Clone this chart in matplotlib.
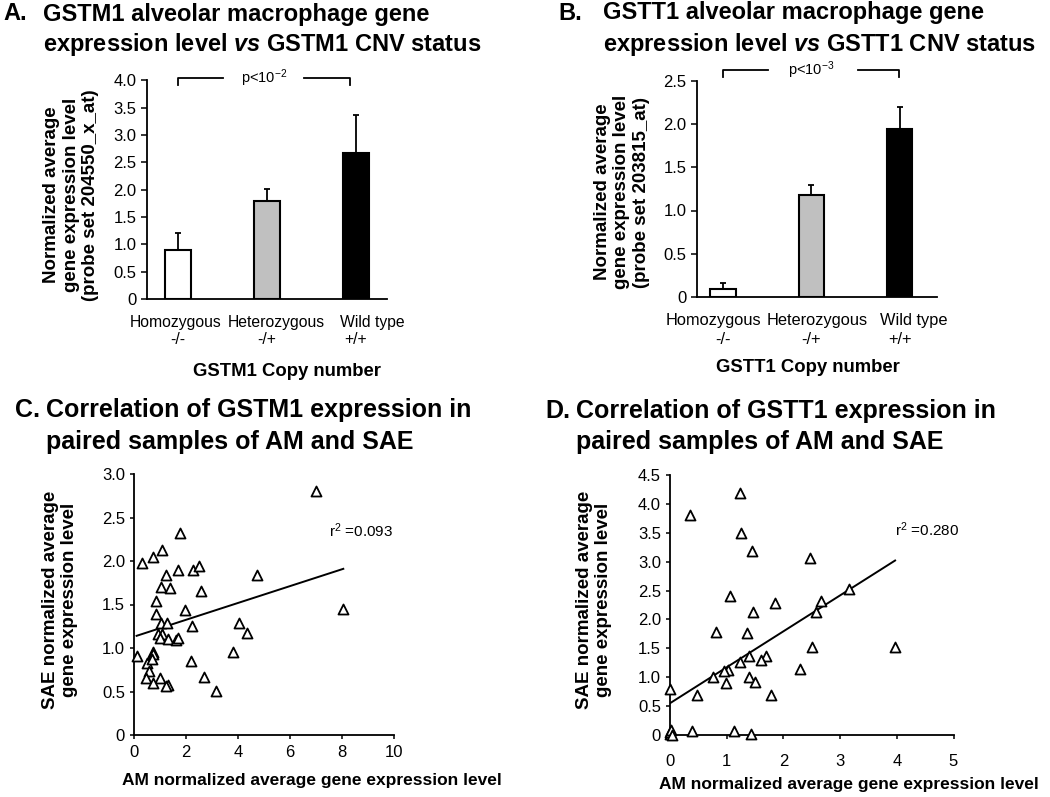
import numpy as np
import matplotlib
matplotlib.use("Agg")
import matplotlib.pyplot as plt

plt.rcParams['font.family'] = ['Liberation Sans', 'DejaVu Sans']
plt.rcParams['mathtext.fontset'] = 'custom'
plt.rcParams['mathtext.rm'] = 'Liberation Sans'
plt.rcParams['mathtext.it'] = 'Liberation Sans:italic:bold'
plt.rcParams['mathtext.bf'] = 'Liberation Sans:bold'

# ---------------- data ----------------
bar_names = ["Homozygous", "Heterozygous", "Wild type"]
bar_codes = ["-/-", "-/+", "+/+"]
bar_colors = ["white", "#c0c0c0", "black"]

gstm1_means = [0.90, 1.79, 2.66]
gstm1_err = [0.30, 0.23, 0.70]

gstt1_means = [0.09, 1.18, 1.94]
gstt1_err = [0.07, 0.12, 0.26]

# Panel C scatter (AM vs SAE, GSTM1)
c_am = [7.0, 8.05, 1.77, 1.09, 0.74, 0.31, 1.69, 2.28, 2.51, 1.22, 4.74, 1.03, 1.38,
        2.56, 0.85, 1.96, 0.83, 1.03, 1.27, 2.23, 4.05, 4.33, 0.94, 1.09, 1.00, 1.32,
        1.62, 1.70, 3.80, 0.13, 0.72, 0.74, 2.19, 0.51, 0.68, 0.56, 0.46, 1.00, 0.74,
        1.32, 1.22, 2.69, 3.14]
c_sae = [2.81, 1.45, 2.32, 2.13, 2.05, 1.98, 1.90, 1.90, 1.94, 1.84, 1.84, 1.70, 1.69,
         1.66, 1.54, 1.44, 1.39, 1.29, 1.29, 1.25, 1.29, 1.17, 1.16, 1.16, 1.11, 1.10,
         1.09, 1.12, 0.95, 0.91, 0.95, 0.93, 0.85, 0.83, 0.87, 0.73, 0.65, 0.66, 0.60,
         0.58, 0.56, 0.67, 0.51]
c_fit_x = [0.1, 8.05]
c_fit_y = [1.14, 1.91]
c_r2 = "0.093"

# Panel D scatter (AM vs SAE, GSTT1)
d_am = [1.23, 0.36, 1.26, 1.45, 2.47, 1.06, 1.85, 2.66, 3.15, 2.58, 1.47, 0.81, 1.36,
        2.50, 3.97, 1.40, 1.69, 1.60, 1.23, 2.30, 1.03, 0.95, 0.76, 1.39, 0.98, 1.50,
        0.00, 0.48, 1.78, 0.39, 1.12, 1.42, 0.00, 0.00, 0.02, 0.03]
d_sae = [4.19, 3.81, 3.49, 3.18, 3.06, 2.41, 2.28, 2.32, 2.53, 2.13, 2.13, 1.79, 1.77,
         1.53, 1.52, 1.37, 1.37, 1.29, 1.27, 1.14, 1.12, 1.11, 1.00, 1.01, 0.90, 0.92,
         0.80, 0.69, 0.69, 0.07, 0.07, 0.02, 0.02, 0.05, 0.08, 0.00]
d_fit_x = [0.0, 3.97]
d_fit_y = [0.55, 3.02]
d_r2 = "0.280"

# ---------------- figure ----------------
W, H = 1050, 797
fig = plt.figure(figsize=(W / 100, H / 100), dpi=100)


def ax_px(left, right, top, bottom):
    return fig.add_axes([left / W, 1 - bottom / H, (right - left) / W, (bottom - top) / H])


def ftxt(x, y, s, **kw):
    fig.text(x / W, 1 - y / H, s, **kw)


def fmt(v):
    return "0" if v == 0 else f"{v:.1f}"


def style_axes(ax):
    for s in ("top", "right"):
        ax.spines[s].set_visible(False)
    for s in ("left", "bottom"):
        ax.spines[s].set_linewidth(1.3)
    ax.tick_params(labelsize=12, width=1.1, length=4, direction="out")


def bar_panel(ax, means, errs, ylim, yticks, bracket, ptxt, name_x, name_y, code_y, fs):
    x = np.arange(len(means))
    ax.bar(x, means, width=0.29, color=bar_colors, edgecolor="black", linewidth=1.5, zorder=2)
    ax.errorbar(x, means, yerr=[[0] * len(errs), errs], fmt="none", ecolor="black",
                elinewidth=1.3, capsize=2.5, capthick=1.3, zorder=3)
    ax.set_ylim(*ylim)
    ax.set_yticks(yticks)
    ax.set_yticklabels([fmt(v) for v in yticks])
    ax.set_xticks([])
    style_axes(ax)
    # category labels: names (line 1) and genotype codes (line 2, under the bars)
    for xi, nx, name, code in zip(x, name_x, bar_names, bar_codes):
        ftxt(nx, name_y, name, fontsize=fs, ha="center", va="center")
        px = ax.transData.transform((xi, 0))[0]
        ftxt(px, code_y, code, fontsize=fs, ha="center", va="center")
    # significance bracket
    y0, y1, xl, xr, g1, g2, xt = bracket
    kw = dict(color="black", lw=1.3, clip_on=False)
    ax.plot([xl, xl, g1], [y1, y0, y0], **kw)
    ax.plot([g2, xr, xr], [y0, y0, y1], **kw)
    ax.text(xt, y0, ptxt, ha="center", va="center", fontsize=10.5)


# Panel A
axA = ax_px(147, 387, 80.2, 299)
axA.set_xlim(-0.35, 2.35)
bar_panel(axA, gstm1_means, gstm1_err, (0, 4.0), np.arange(0, 4.01, 0.5),
          (4.04, 3.91, 0.0, 1.93, 0.5, 1.42, 0.97), r"p<10$^{\mathregular{-2}}$",
          [176, 276, 372], 323, 340, 11.3)

# Panel B
axB = ax_px(696.7, 936.7, 81.2, 296.7)
axB.set_xlim(-0.3, 2.42)
bar_panel(axB, gstt1_means, gstt1_err, (0, 2.5), np.arange(0, 2.51, 0.5),
          (2.63, 2.55, 0.0, 1.99, 0.51, 1.53, 1.0), r"p<10$^{\mathregular{-3}}$",
          [713, 817, 914], 320, 340, 11.8)


def scatter_panel(ax, xs, ys, fx, fy, r2, xlim, ylim, xt, yt, r2pos, xpad):
    ax.scatter(xs, ys, marker="^", s=52, facecolors="white", edgecolors="black",
               linewidths=1.3, clip_on=False, zorder=3)
    ax.plot(fx, fy, color="black", lw=1.4, zorder=2)
    ax.set_xlim(*xlim)
    ax.set_ylim(*ylim)
    ax.set_xticks(xt)
    ax.set_xticklabels([str(v) for v in xt])
    ax.set_yticks(yt)
    ax.set_yticklabels([fmt(v) for v in yt])
    style_axes(ax)
    ax.tick_params(axis="x", pad=xpad, length=3)
    ax.tick_params(axis="y", length=3)
    ax.text(r2pos[0], r2pos[1], r"r$^{\mathregular{2}}$ =" + r2, fontsize=11,
            ha="left", va="center")


# Panel C
axC = ax_px(134, 394, 474, 735)
scatter_panel(axC, c_am, c_sae, c_fit_x, c_fit_y, c_r2, (0, 10), (0, 3.0),
              [0, 2, 4, 6, 8, 10], np.arange(0, 3.01, 0.5), (7.5, 2.35), 4)

# Panel D
axD = ax_px(670, 953.5, 475, 735)
scatter_panel(axD, d_am, d_sae, d_fit_x, d_fit_y, d_r2, (0, 5), (0, 4.5),
              [0, 1, 2, 3, 4, 5], np.arange(0, 4.51, 0.5), (3.96, 3.55), 11)

# ---------------- titles & labels ----------------
tkw = dict(fontsize=17, fontweight="bold", va="center", ha="left")
ftxt(3, 14, "A.", **tkw)
ftxt(43, 14, "GSTM1 alveolar macrophage gene", **tkw)
ftxt(43, 44, r"expression level $\mathit{vs}$ GSTM1 CNV status", **tkw)
ftxt(558, 13, "B.", **tkw)
ftxt(603, 13, "GSTT1 alveolar macrophage gene", **tkw)
ftxt(603, 44, r"expression level $\mathit{vs}$ GSTT1 CNV status", **tkw)

ckw = dict(fontsize=18, fontweight="bold", va="center", ha="left")
ftxt(15, 410, "C.", **ckw)
ftxt(46, 410, "Correlation of GSTM1 expression in", **ckw)
ftxt(46, 442, "paired samples of AM and SAE", **ckw)
ftxt(545, 411, "D.", **ckw)
ftxt(576, 411, "Correlation of GSTT1 expression in", **ckw)
ftxt(576, 442, "paired samples of AM and SAE", **ckw)

ykw = dict(fontsize=13.5, fontweight="bold", rotation=90, ha="center", va="center",
           multialignment="center", linespacing=1.22)
ftxt(71, 195, "Normalized average\ngene expression level\n(probe set 204550_x_at)", **ykw)
ftxt(622, 192, "Normalized average\ngene expression level\n(probe set 203815_at)", **ykw)
ftxt(60, 600, "SAE normalized average\ngene expression level", **ykw)
ftxt(594, 600, "SAE normalized average\ngene expression level", **ykw)

xkw = dict(fontsize=13.3, fontweight="bold", ha="center", va="center")
ftxt(287, 372, "GSTM1 Copy number", **xkw)
ftxt(808, 367, "GSTT1 Copy number", **xkw)
skw = dict(fontsize=12.5, fontweight="bold", ha="center", va="center")
ftxt(312, 780, "AM normalized average gene expression level", **skw)
ftxt(849, 785, "AM normalized average gene expression level", **skw)

fig.savefig("out.png", dpi=100, facecolor="white")
